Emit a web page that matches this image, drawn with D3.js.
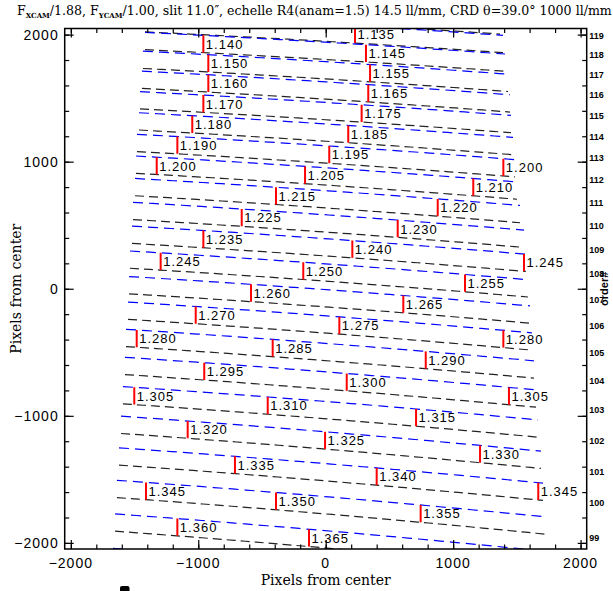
<!DOCTYPE html>
<html><head><meta charset="utf-8">
<script src="https://cdn.jsdelivr.net/npm/d3@7"></script>
<style>
body{margin:0;background:#fff;}
svg{display:block;}
</style></head>
<body><svg id="chart" width="613" height="591"></svg>
<script>
// ---------- data ----------
const orders        = [120, 119, 118, 117, 116, 115, 114, 113, 112, 111, 110, 109, 108, 107, 106, 105, 104, 103, 102, 101, 100, 99, 98];
const orderCenterY  = [2157, 2015, 1872, 1719, 1560, 1398, 1229, 1057, 884, 704, 514, 326, 128, -75, -281, -498, -722, -955, -1194, -1444, -1704, -1972, -2247];
const orderSlope    = [-0.0562, -0.0582, -0.0602, -0.0632, -0.0642, -0.0642, -0.0662, -0.0672, -0.0682, -0.0702, -0.0712, -0.0712, -0.0722, -0.0732, -0.0762, -0.0772, -0.0792, -0.0802, -0.0832, -0.0832, -0.0852, -0.0867, -0.0882];
const orderXStart   = [-1402, -1418, -1418, -1434, -1442, -1457, -1465, -1481, -1489, -1496, -1512, -1520, -1536, -1543, -1551, -1567, -1575, -1591, -1606, -1622, -1638, -1653, -1669];
const orderXEnd     = [1368, 1391, 1407, 1431, 1446, 1454, 1470, 1485, 1501, 1525, 1556, 1571, 1587, 1603, 1618, 1634, 1650, 1666, 1689, 1705, 1736, 1752, 1768];
const lineCurvature = -4.1e-6;
const slitHalf      = 68;

const labeledOrders = [119, 118, 117, 116, 115, 114, 113, 112, 111, 110, 109, 108, 107, 106, 105, 104, 103, 102, 101, 100, 99];
const orderLabelY   = [1989, 1840, 1682, 1525, 1362, 1197, 1034, 856, 677, 494, 305, 116, -89, -293, -506, -724, -954, -1198, -1440, -1686, -1959];

const markLabel = ["1.135","1.140","1.145","1.150","1.155","1.160","1.165","1.170","1.175","1.180","1.185",
                   "1.190","1.195","1.200","1.200","1.205","1.210","1.215","1.220","1.225","1.230",
                   "1.235","1.240","1.245","1.245","1.250","1.255","1.260","1.265","1.270","1.275","1.280",
                   "1.280","1.285","1.290","1.295","1.300","1.305","1.305","1.310","1.315","1.320","1.325","1.330",
                   "1.335","1.340","1.345","1.345","1.350","1.355","1.360","1.365"];
const markOrder = [119,118,118,117,117,116,116,115,115,114,114,
                   113,113,113,112,112,112,111,111,110,110,
                   109,109,109,108,108,108,107,107,106,106,106,
                   105,105,105,104,104,104,103,103,103,102,102,102,
                   101,101,101,100,100,100,99,99];
const markX     = [230,-960,316,-921,348,-921,334,-960,282,-1047,177,
                   -1164,28,1394,-1326,-162,1158,-390,879,-659,565,
                   -960,209,1556,-1295,-176,1093,-586,609,-1020,107,1394,
                   -1483,-416,785,-953,165,1438,-1502,-455,709,-1083,-5,1211,
                   -712,400,1668,-1410,-390,745,-1164,-131];

const majorTicks = [-2000, -1000, 0, 1000, 2000];
const minorTicks = [-2000,-1800,-1600,-1400,-1200,-1000,-800,-600,-400,-200,0,200,400,600,800,1000,1200,1400,1600,1800,2000];

// ---------- layout ----------
const L = 64.7, R = 586.7, T = 28.5, B = 549;
const svg = d3.select('#chart');
const x = d3.scaleLinear().domain([-2048, 2048]).range([L, R]);
const y = d3.scaleLinear().domain([-2048, 2048]).range([B, T]);

svg.append('defs').append('clipPath').attr('id','plotclip')
  .append('rect').attr('x',L).attr('y',T).attr('width',R-L).attr('height',B-T);

const plot = svg.append('g').attr('clip-path','url(#plotclip)');

function orderY(i, xv){ return orderCenterY[i] + orderSlope[i]*xv + lineCurvature*xv*xv; }

const line = d3.line().x(d => x(d[0])).y(d => y(d[1]));

orders.forEach((m, i) => {
  const n = 40;
  const xs = d3.range(n+1).map(k => orderXStart[i] + (orderXEnd[i]-orderXStart[i])*k/n);
  plot.append('path')
    .attr('d', line(xs.map(v => [v, orderY(i, v) - slitHalf])))
    .attr('fill','none').attr('stroke','#222').attr('stroke-width',1.2)
    .attr('stroke-dasharray','9,5');
  plot.append('path')
    .attr('d', line(xs.map(v => [v, orderY(i, v) + slitHalf])))
    .attr('fill','none').attr('stroke','#0000ff').attr('stroke-width',1.2)
    .attr('stroke-dasharray','10,6');
});

markLabel.forEach((lab, k) => {
  const i = orders.indexOf(markOrder[k]);
  const xv = markX[k];
  const yc = orderY(i, xv);
  plot.append('line')
    .attr('x1', x(xv)).attr('x2', x(xv))
    .attr('y1', y(yc + slitHalf)).attr('y2', y(yc - slitHalf))
    .attr('stroke','#ff0000').attr('stroke-width',2);
  plot.append('text')
    .attr('x', x(xv) + 2.5).attr('y', y(yc) + 4.8)
    .attr('font-family','Liberation Sans, Arial, sans-serif')
    .attr('font-size', 13).attr('letter-spacing', 1)
    .attr('fill','#000').text(lab);
});

// ---------- axes ----------
function tickAxis(axisFn, scale, vals, size, transform){
  const g = svg.append('g').attr('transform', transform)
    .call(axisFn(scale).tickValues(vals).tickSize(size).tickSizeOuter(0).tickFormat(''));
  g.select('.domain').remove();
  g.selectAll('line').attr('stroke','#000').attr('stroke-width',1.2);
  return g;
}
tickAxis(d3.axisBottom, x, minorTicks, -4.5, `translate(0,${B})`);
tickAxis(d3.axisBottom, x, majorTicks, -9,   `translate(0,${B})`);
tickAxis(d3.axisTop,    x, minorTicks, -4.5, `translate(0,${T})`);
tickAxis(d3.axisTop,    x, majorTicks, -9,   `translate(0,${T})`);
tickAxis(d3.axisLeft,   y, minorTicks, -4.5, `translate(${L},0)`);
tickAxis(d3.axisLeft,   y, majorTicks, -9,   `translate(${L},0)`);
tickAxis(d3.axisRight,  y, minorTicks, -4.5, `translate(${R},0)`);
tickAxis(d3.axisRight,  y, majorTicks, -9,   `translate(${R},0)`);

svg.append('rect').attr('x',L).attr('y',T).attr('width',R-L).attr('height',B-T)
  .attr('fill','none').attr('stroke','#000').attr('stroke-width',1.5);

const fmt = d3.format('d');
const tickFont = 'Liberation Sans, Arial, sans-serif';
majorTicks.forEach(v => {
  svg.append('text').attr('x', x(v)).attr('y', B + 19)
    .attr('text-anchor','middle').attr('font-family',tickFont)
    .attr('font-size',14).attr('letter-spacing',1).text(fmt(v));
  svg.append('text').attr('x', L - 6).attr('y', y(v) + 5)
    .attr('text-anchor','end').attr('font-family',tickFont)
    .attr('font-size',14).attr('letter-spacing',1).text(fmt(v));
});

// order numbers on the right
labeledOrders.forEach((m, k) => {
  svg.append('text').attr('x', R + 2.5).attr('y', y(orderLabelY[k]) + 3.3)
    .attr('font-family','Liberation Sans, Arial, sans-serif').attr('font-weight','bold')
    .attr('font-size', 9).text(m);
});
svg.append('text').attr('transform',`translate(608,${y(0)}) rotate(-90)`)
  .attr('text-anchor','middle').attr('font-family','Liberation Sans, Arial, sans-serif')
  .attr('font-weight','bold').attr('font-size',11).text('order#');

// axis titles
svg.append('text').attr('x', (L+R)/2).attr('y', 585)
  .attr('text-anchor','middle').attr('font-family','DejaVu Serif, serif')
  .attr('font-size',14).text('Pixels from center');
svg.append('text').attr('transform',`translate(21,${y(0)}) rotate(-90)`)
  .attr('text-anchor','middle').attr('font-family','DejaVu Serif, serif')
  .attr('font-size',14).text('Pixels from center');

// title
const title = svg.append('text').attr('x', 17).attr('y', 15)
  .attr('font-family','DejaVu Serif, serif').attr('font-size',12.6);
title.append('tspan').text('F');
title.append('tspan').attr('font-size',7).attr('font-weight','bold').attr('dy',3).text('XCAM');
title.append('tspan').attr('dy',-3).text('/1.88, F');
title.append('tspan').attr('font-size',7).attr('font-weight','bold').attr('dy',3).text('YCAM');
title.append('tspan').attr('dy',-3).text('/1.00, slit 11.0\u2033, echelle R4(anam=1.5) 14.5 ll/mm, CRD \u03b8=39.0\u00b0 1000 ll/mm');

// small plotting artefact below the axis
svg.append('rect').attr('x',120).attr('y',586).attr('width',9.5).attr('height',8)
  .attr('rx',2).attr('fill','#000');
</script>
</body></html>
